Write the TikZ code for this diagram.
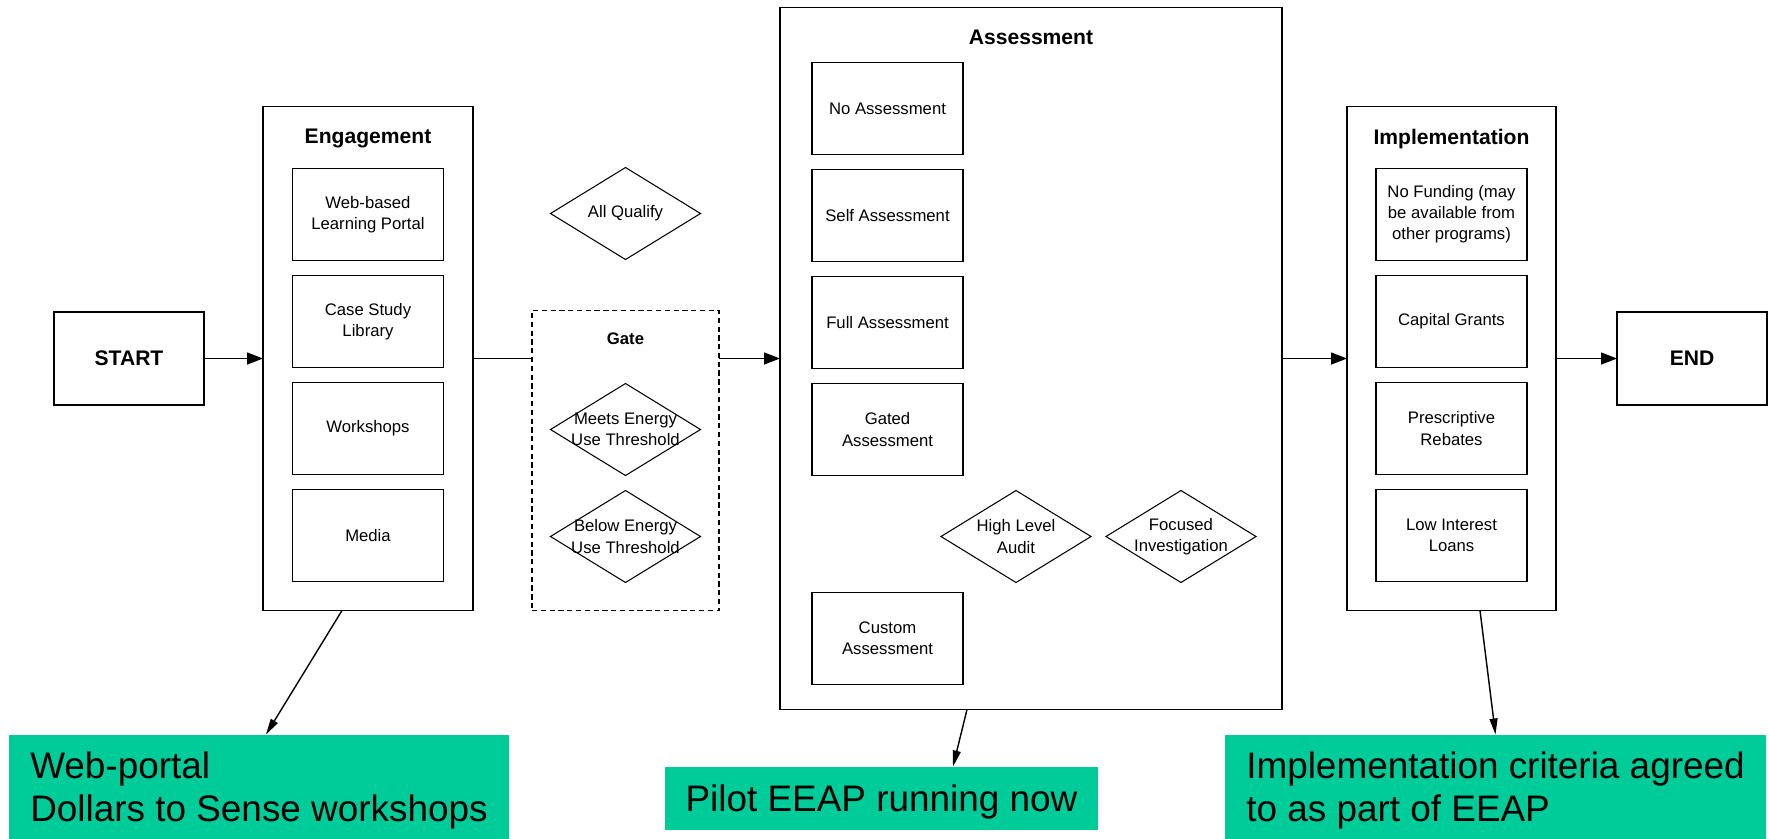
\documentclass[tikz,border=0pt]{standalone}
\usepackage{fontspec}
\setmainfont{Liberation Sans}
\usepackage{tikz}
\usetikzlibrary{shapes.geometric, arrows.meta, positioning}
\definecolor{notegreen}{HTML}{00CC99}

\begin{document}
\begin{tikzpicture}[
        outer sep=0pt,
        stage/.style={draw, rectangle, line width=0.8pt},
        endpoint/.style={draw, rectangle, minimum width=3cm, minimum height=1.86cm, line width=0.8pt, font=\fontsize{12}{14}\selectfont\bfseries},
        heading/.style={inner sep=0pt, font=\fontsize{12}{14}\selectfont\bfseries},
        option/.style={draw, rectangle, minimum width=3.02cm, minimum height=1.84cm, align=center, line width=0.8pt, font=\fontsize{9.5}{12}\selectfont},
        check/.style={draw, diamond, minimum width=3cm, minimum height=1.84cm, inner sep=0pt, line width=0.6pt},
        checktext/.style={align=center, inner sep=0pt, font=\fontsize{9.5}{12}\selectfont},
        note/.style={fill=notegreen, align=left, text depth=0pt, font=\fontsize{21}{24.4}\selectfont},
        flow/.style={line width=0.8pt, -{Triangle[length=0.32cm, width=0.24cm]}},
        line/.style={line width=0.8pt},
        pointer/.style={line width=0.8pt, -{Triangle[length=0.32cm, width=0.16cm]}}
    ]
        \useasboundingbox (0,0) rectangle (35.38,-16.76);

        % stages
        \node[endpoint] (start) at (2.58,-7.17) {START};
        \node[stage, minimum width=4.2cm, minimum height=10.08cm, right=1.18cm of start] (eng) {};
        \node[stage, densely dashed, line width=0.6pt, minimum width=3.74cm, minimum height=6cm, right=1.18cm of eng.south east, anchor=south west] (gate) {};
        \node[stage, minimum width=10.04cm, minimum height=14.04cm, right=6.14cm of eng] (assess) {};
        \node[stage, minimum width=4.18cm, minimum height=10.08cm, right=1.3cm of assess] (impl) {};
        \node[endpoint, right=1.22cm of impl] (finish) {END};

        % engagement
        \node[heading, below=0.45cm of eng.north] (engtitle) {Engagement};
        \node[option, below=1.24cm of eng.north] (portal) {Web-based\\Learning Portal};
        \node[option, below=0.3cm of portal] (library) {Case Study\\Library};
        \node[option, below=0.3cm of library] (workshops) {Workshops};
        \node[option, below=0.3cm of workshops] (media) {Media};

        % gate
        \node[heading, font=\fontsize{9.5}{12}\selectfont\bfseries, below=0.45cm of gate.north] (gatetitle) {Gate};
        \node[check, above=1.02cm of gate, label={[checktext]center:All Qualify}] (allq) {};
        \node[check, below=1.46cm of gate.north, label={[checktext]center:Meets Energy\\Use Threshold}] (meets) {};
        \node[check, below=0.3cm of meets, label={[checktext]center:Below Energy\\Use Threshold}] (belowq) {};

        % assessment
        \node[heading, below=0.45cm of assess.north] (asstitle) {Assessment};
        \node[option, below right=1.1cm and 0.64cm of assess.north west] (noass) {No Assessment};
        \node[option, below=0.3cm of noass] (selfass) {Self Assessment};
        \node[option, below=0.3cm of selfass] (fullass) {Full Assessment};
        \node[option, below=0.3cm of fullass] (gatedass) {Gated\\Assessment};
        \node[option, below=2.34cm of gatedass] (customass) {Custom\\Assessment};
        \node[check, below=0.3cm of gatedass.south east, xshift=1.06cm, label={[checktext]center:High Level\\Audit}] (audit) {};
        \node[check, right=0.3cm of audit, label={[checktext]center:Focused\\Investigation}] (focus) {};

        % implementation
        \node[heading, below=0.45cm of impl.north] (impltitle) {Implementation};
        \node[option, below=1.24cm of impl.north] (nofund) {No Funding (may\\be available from\\other programs)};
        \node[option, below=0.3cm of nofund] (grants) {Capital Grants};
        \node[option, below=0.3cm of grants] (rebates) {Prescriptive\\Rebates};
        \node[option, below=0.3cm of rebates] (loans) {Low Interest\\Loans};

        % notes
        \node[note, minimum width=10cm, minimum height=2.08cm, below=2.48cm of eng.south, xshift=-2.18cm] (webnote) {Web-portal\\Dollars to Sense workshops};
        \node[note, minimum width=8.66cm, minimum height=1.26cm, below=1.14cm of assess.south, xshift=-2.99cm] (pilotnote) {Pilot EEAP running now};
        \node[note, minimum width=10.82cm, minimum height=2.08cm, below=2.48cm of impl.south, xshift=0.88cm] (criterianote) {Implementation criteria agreed\\to as part of EEAP};

        % connectors
        \draw[flow] (start) -- (eng);
        \draw[line] (eng.east) -- (eng.east -| gate.west);
        \draw[flow] (assess.west -| gate.east) -- (assess.west);
        \draw[flow] (assess) -- (impl);
        \draw[flow] (impl) -- (finish);

        \draw[pointer] ([xshift=-0.52cm]eng.south) -- ([xshift=0.14cm]webnote.north);
        \draw[pointer] ([xshift=-1.28cm]assess.south) -- ([xshift=1.43cm]pilotnote.north);
        \draw[pointer] ([xshift=0.57cm]impl.south) -- (criterianote.north);

    \end{tikzpicture}
\end{document}
